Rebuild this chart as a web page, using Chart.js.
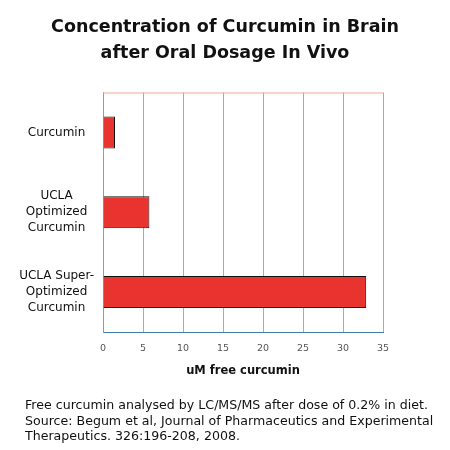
<!DOCTYPE html>
<html>
<head>
<meta charset="utf-8">
<script src="https://cdn.jsdelivr.net/npm/chart.js@4"></script>
<style>
  body { margin: 0; background: #fff; }
  .wrap { position: relative; width: 450px; height: 450px; }
  .note {
    position: absolute; left: 25px; top: 397px;
    font: 12.6px "DejaVu Sans", sans-serif; line-height: 15.5px; color: #111;
  }
</style>
</head>
<body>
<div class="wrap">
  <canvas id="c" width="450" height="450"></canvas>
  <div class="note">Free curcumin analysed by LC/MS/MS after dose of 0.2% in diet.<br>Source: Begum et al, Journal of Pharmaceutics and Experimental<br>Therapeutics. 326:196-208, 2008.</div>
</div>
<script>
// chart data
const categories = [['Curcumin'], ['UCLA', 'Optimized', 'Curcumin'], ['UCLA Super-', 'Optimized', 'Curcumin']];
const freeCurcumin = [1.5, 5.8, 32.9];
const xTicks = [0, 5, 10, 15, 20, 25, 30, 35];

// thin coloured line across the top of the plot
const topLine = {
  id: 'topLine',
  afterDraw(chart) {
    const a = chart.chartArea, ctx = chart.ctx;
    ctx.save();
    ctx.strokeStyle = '#f0a898';
    ctx.lineWidth = 1;
    ctx.beginPath();
    ctx.moveTo(a.left, a.top + 0.5);
    ctx.lineTo(a.right, a.top + 0.5);
    ctx.stroke();
    ctx.restore();
  }
};

new Chart(document.getElementById('c'), {
  type: 'bar',
  data: {
    labels: categories,
    datasets: [{
      data: freeCurcumin,
      backgroundColor: '#e8332f',
      borderColor: '#111',
      borderWidth: 1,
      barPercentage: 0.4,
      categoryPercentage: 1
    }]
  },
  options: {
    indexAxis: 'y',
    responsive: false,
    animation: false,
    layout: { padding: { left: 0, right: 0, bottom: 68 } },
    plugins: {
      legend: { display: false },
      tooltip: { enabled: false },
      title: {
        display: true,
        text: ['Concentration of Curcumin in Brain', 'after Oral Dosage In Vivo'],
        color: '#111',
        font: { family: '"DejaVu Sans", sans-serif', size: 17.5, weight: 'bold', lineHeight: 1.5 },
        padding: { top: 14, bottom: 26 }
      }
    },
    scales: {
      x: {
        min: 0, max: 35,
        afterBuildTicks(scale) { scale.ticks = xTicks.map(v => ({ value: v })); },
        afterFit(scale) { scale.height = 50; },
        grid: { color: '#aaa', drawTicks: false },
        border: { color: '#3f7fa8', width: 1 },
        ticks: { color: '#555', padding: 11, font: { family: '"DejaVu Sans", sans-serif', size: 9.5 } },
        title: {
          display: true, text: 'uM free curcumin', color: '#111',
          font: { family: '"DejaVu Sans", sans-serif', size: 11.5, weight: 'bold' },
          padding: { top: 5 }
        }
      },
      y: {
        afterFit(scale) { scale.width = 103; },
        grid: { display: false },
        border: { color: '#999' },
        ticks: {
          color: '#111', padding: 1, crossAlign: 'center',
          font: { family: '"DejaVu Sans", sans-serif', size: 12, lineHeight: 1.33 }
        }
      },
      // empty right-hand axis: only reserves the white margin on the right
      yRight: {
        type: 'linear',
        position: 'right',
        afterFit(scale) { scale.width = 67; },
        grid: { display: false },
        border: { display: false },
        ticks: { display: false }
      }
    }
  },
  plugins: [topLine]
});
</script>
</body>
</html>
